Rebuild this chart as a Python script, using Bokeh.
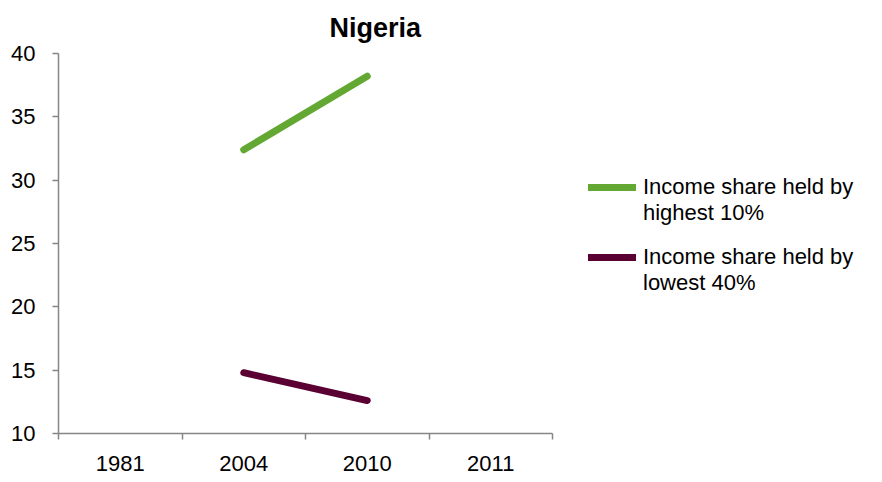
from bokeh.plotting import figure
from bokeh.layouts import row
from bokeh.models import ColumnDataSource, FixedTicker, Legend, LegendItem, Range1d
from bokeh.embed import file_html
from bokeh.resources import INLINE

categories = ["1981", "2004", "2010", "2011"]
highest_10 = [float("nan"), 32.4, 38.2, float("nan")]
lowest_40 = [float("nan"), 14.8, 12.6, float("nan")]
y_ticks = [10, 15, 20, 25, 30, 35, 40]
series_names = ["Income share held by\nhighest 10%", "Income share held by\nlowest 40%"]
colors = ["#63A832", "#5B0033"]

FONT = "Liberation Sans"
x_pos = [i + 0.5 for i in range(len(categories))]
src = ColumnDataSource(dict(x=x_pos, hi=highest_10, lo=lowest_40))

H = 474
p = figure(width=560, height=H, output_backend="svg", toolbar_location=None,
           x_range=Range1d(0, len(categories)), y_range=Range1d(10, 40),
           min_border_left=58, min_border_right=8, min_border_top=53, min_border_bottom=41)
p.outline_line_color = None
p.xgrid.visible = False
p.ygrid.visible = False
p.border_fill_color = "white"

r1 = p.line("x", "hi", source=src, line_color=colors[0], line_width=7, line_cap="round")
r2 = p.line("x", "lo", source=src, line_color=colors[1], line_width=7, line_cap="round")

p.title.text = "Nigeria"
p.title.text_font = FONT
p.title.text_font_size = "27px"
p.title.text_font_style = "bold"
p.title.text_color = "black"
p.title.align = "left"
p.title.offset = 271
p.title.standoff = 21

for ax in (p.xaxis[0], p.yaxis[0]):
    ax.axis_line_color = "#868686"
    ax.axis_line_width = 1.5
    ax.major_tick_line_color = "#868686"
    ax.minor_tick_line_color = "#868686"
    ax.major_tick_line_width = 1.5
    ax.minor_tick_line_width = 1.5
    ax.major_label_text_font = FONT
    ax.major_label_text_font_size = "22px"
    ax.major_label_text_color = "black"

p.yaxis[0].ticker = FixedTicker(ticks=y_ticks)
p.yaxis[0].major_tick_out = 6
p.yaxis[0].major_tick_in = 0
p.yaxis[0].minor_tick_out = 0
p.yaxis[0].major_label_standoff = 17

p.xaxis[0].ticker = FixedTicker(ticks=x_pos, minor_ticks=list(range(len(categories) + 1)))
p.xaxis[0].major_label_overrides = {x: c for x, c in zip(x_pos, categories)}
p.xaxis[0].major_tick_out = 0
p.xaxis[0].major_tick_in = 0
p.xaxis[0].minor_tick_out = 6
p.xaxis[0].minor_tick_in = 0
p.xaxis[0].major_label_standoff = 16

# legend panel (its lines sit outside the visible range; only the legend shows them)
pl = figure(width=306, height=H, output_backend="svg", toolbar_location=None,
            x_axis_location=None, y_axis_location=None,
            x_range=Range1d(0, 1), y_range=Range1d(0, 1),
            min_border=0, outline_line_color=None)
pl.xgrid.visible = False
pl.ygrid.visible = False

legend_bottoms = [207, 137]
for name, color, bottom in zip(series_names, colors, legend_bottoms):
    g = pl.line(x=[5, 6], y=[5, 6], line_color=color, line_width=7, line_cap="round")
    blank = pl.line(x=[5, 6], y=[5, 6], line_alpha=0)
    first, second = name.split("\n")
    lg = Legend(items=[LegendItem(label=first, renderers=[g]),
                       LegendItem(label=second, renderers=[blank])],
                location=(28, bottom), padding=0, margin=0, spacing=0,
                glyph_width=48, glyph_height=26, label_height=26, label_standoff=7,
                label_text_font=FONT, label_text_font_size="22px",
                label_text_color="black",
                border_line_color=None, background_fill_alpha=0)
    pl.add_layout(lg)

open("out.html", "w").write(file_html(row(p, pl), INLINE))
